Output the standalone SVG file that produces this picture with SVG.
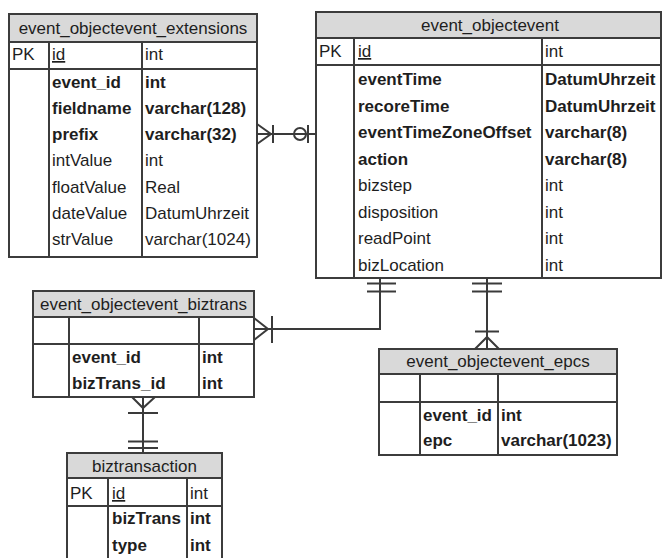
<svg xmlns="http://www.w3.org/2000/svg" width="662" height="558" viewBox="0 0 662 558">
  <style>
    text { font-family: "Liberation Sans", Arial, sans-serif; font-size: 17px; fill: #1e1e1e; }
    .b { font-weight: bold; }
    .hd { text-anchor: middle; }
    .pk { text-decoration: underline; }
    .box { fill: #ffffff; stroke: #3c3c3c; stroke-width: 2; }
    .head { fill: #d9d9d9; stroke: #3c3c3c; stroke-width: 2; }
    .ln { stroke: #3c3c3c; stroke-width: 2; fill: none; }
    .cn { stroke: #3a3a3a; stroke-width: 2; fill: none; }
  </style>

  <!-- table: event_objectevent_extensions -->
  <g id="event_objectevent_extensions">
    <rect class="box" x="9" y="14" width="248" height="243"/>
    <rect class="head" x="9" y="14" width="248" height="28"/>
    <line class="ln" x1="9" y1="69" x2="257" y2="69"/>
    <line class="ln" x1="49" y1="42" x2="49" y2="257"/>
    <line class="ln" x1="142" y1="42" x2="142" y2="257"/>
    <text class="hd" x="133" y="34">event_objectevent_extensions</text>
    <text x="12" y="60">PK</text>
    <text class="pk" x="52" y="60">id</text>
    <text x="145" y="60">int</text>
    <text class="b" x="52" y="87.5">event_id</text>
    <text class="b" x="145" y="87.5">int</text>
    <text class="b" x="52" y="113.5">fieldname</text>
    <text class="b" x="145" y="113.5">varchar(128)</text>
    <text class="b" x="52" y="140">prefix</text>
    <text class="b" x="145" y="140">varchar(32)</text>
    <text x="52" y="166">intValue</text>
    <text x="145" y="166">int</text>
    <text x="52" y="192.5">floatValue</text>
    <text x="145" y="192.5">Real</text>
    <text x="52" y="218.5">dateValue</text>
    <text x="145" y="218.5">DatumUhrzeit</text>
    <text x="52" y="245">strValue</text>
    <text x="145" y="245">varchar(1024)</text>
  </g>

  <!-- table: event_objectevent -->
  <g id="event_objectevent">
    <rect class="box" x="316" y="12" width="345" height="266"/>
    <rect class="head" x="316" y="12" width="345" height="26"/>
    <line class="ln" x1="316" y1="65" x2="661" y2="65"/>
    <line class="ln" x1="354" y1="38" x2="354" y2="278"/>
    <line class="ln" x1="542" y1="38" x2="542" y2="278"/>
    <text class="hd" x="490" y="31">event_objectevent</text>
    <text x="319" y="57">PK</text>
    <text class="pk" x="358" y="57">id</text>
    <text x="545" y="57">int</text>
    <text class="b" x="358" y="85">eventTime</text>
    <text class="b" x="545" y="85">DatumUhrzeit</text>
    <text class="b" x="358" y="111.5">recoreTime</text>
    <text class="b" x="545" y="111.5">DatumUhrzeit</text>
    <text class="b" x="358" y="138">eventTimeZoneOffset</text>
    <text class="b" x="545" y="138">varchar(8)</text>
    <text class="b" x="358" y="164.5">action</text>
    <text class="b" x="545" y="164.5">varchar(8)</text>
    <text x="358" y="191">bizstep</text>
    <text x="545" y="191">int</text>
    <text x="358" y="217.5">disposition</text>
    <text x="545" y="217.5">int</text>
    <text x="358" y="244">readPoint</text>
    <text x="545" y="244">int</text>
    <text x="358" y="270.5">bizLocation</text>
    <text x="545" y="270.5">int</text>
  </g>

  <!-- table: event_objectevent_biztrans -->
  <g id="event_objectevent_biztrans">
    <rect class="box" x="33" y="291" width="221" height="106"/>
    <rect class="head" x="33" y="291" width="221" height="26"/>
    <line class="ln" x1="33" y1="344" x2="254" y2="344"/>
    <line class="ln" x1="69" y1="317" x2="69" y2="397"/>
    <line class="ln" x1="199" y1="317" x2="199" y2="397"/>
    <text class="hd" x="143.5" y="310">event_objectevent_biztrans</text>
    <text class="b" x="72" y="363">event_id</text>
    <text class="b" x="202" y="363">int</text>
    <text class="b" x="72" y="389">bizTrans_id</text>
    <text class="b" x="202" y="389">int</text>
  </g>

  <!-- table: event_objectevent_epcs -->
  <g id="event_objectevent_epcs">
    <rect class="box" x="379" y="349" width="238" height="106"/>
    <rect class="head" x="379" y="349" width="238" height="25"/>
    <line class="ln" x1="379" y1="402" x2="617" y2="402"/>
    <line class="ln" x1="420" y1="374" x2="420" y2="455"/>
    <line class="ln" x1="498" y1="374" x2="498" y2="455"/>
    <text class="hd" x="498" y="367">event_objectevent_epcs</text>
    <text class="b" x="423" y="421">event_id</text>
    <text class="b" x="501" y="421">int</text>
    <text class="b" x="423" y="446">epc</text>
    <text class="b" x="501" y="446">varchar(1023)</text>
  </g>

  <!-- table: biztransaction -->
  <g id="biztransaction">
    <rect class="box" x="67" y="453" width="155" height="110"/>
    <rect class="head" x="67" y="453" width="155" height="25"/>
    <line class="ln" x1="67" y1="506" x2="222" y2="506"/>
    <line class="ln" x1="108" y1="478" x2="108" y2="563"/>
    <line class="ln" x1="187" y1="478" x2="187" y2="563"/>
    <text class="hd" x="144.5" y="472">biztransaction</text>
    <text x="70" y="499">PK</text>
    <text class="pk" x="112" y="499">id</text>
    <text x="190" y="499">int</text>
    <text class="b" x="112" y="524">bizTrans</text>
    <text class="b" x="190" y="524">int</text>
    <text class="b" x="112" y="551">type</text>
    <text class="b" x="190" y="551">int</text>
  </g>

  <!-- relationships -->
  <g id="connectors">
    <!-- extensions (one or many) to objectevent (zero or one) -->
    <path class="cn" d="M257,134 H316"/>
    <path class="cn" d="M257,124 L271,134 L257,144"/>
    <line class="cn" x1="273" y1="125" x2="273" y2="143"/>
    <circle class="cn" cx="300" cy="134" r="6" fill="#fff"/>
    <line class="cn" x1="308" y1="125" x2="308" y2="143"/>

    <!-- objectevent (exactly one) to biztrans (one or many) -->
    <path class="cn" d="M380,278 V329 H254"/>
    <line class="cn" x1="367" y1="283.5" x2="396" y2="283.5"/>
    <line class="cn" x1="367" y1="291.5" x2="396" y2="291.5"/>
    <path class="cn" d="M254,318 L268,329 L254,340"/>
    <line class="cn" x1="272" y1="316" x2="272" y2="343"/>

    <!-- objectevent (exactly one) to epcs (one or many) -->
    <path class="cn" d="M487,278 V349"/>
    <line class="cn" x1="472" y1="283.5" x2="502" y2="283.5"/>
    <line class="cn" x1="472" y1="291.5" x2="502" y2="291.5"/>
    <line class="cn" x1="475" y1="331.5" x2="499" y2="331.5"/>
    <path class="cn" d="M475,349 L487,337 L499,349"/>

    <!-- biztrans (one or many) to biztransaction (exactly one) -->
    <path class="cn" d="M143,397 V453"/>
    <path class="cn" d="M132,397 L143,408 L155,397"/>
    <line class="cn" x1="128" y1="413" x2="158" y2="413"/>
    <line class="cn" x1="128" y1="441.5" x2="158" y2="441.5"/>
    <line class="cn" x1="128" y1="448" x2="158" y2="448"/>
  </g>
</svg>
